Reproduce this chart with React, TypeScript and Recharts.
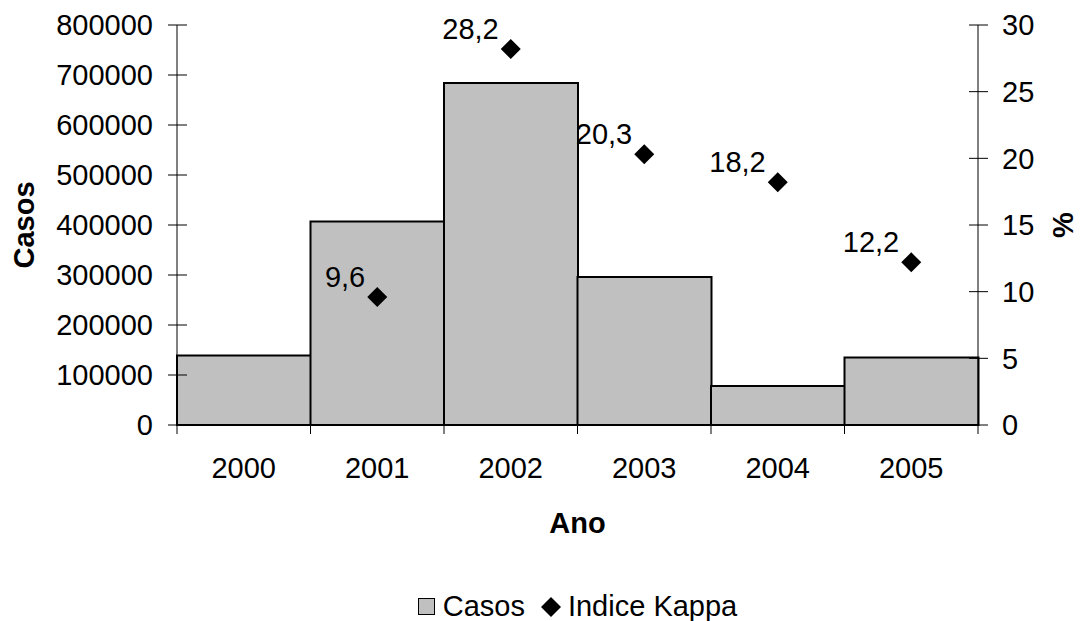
import { ComposedChart, Bar, Line, XAxis, YAxis, Legend } from "recharts";

// Casos por ano (barras, eixo esquerdo) e Indice Kappa em % (losangos, eixo direito)
const anos = ["2000", "2001", "2002", "2003", "2004", "2005"];
const casos = [139000, 407000, 684000, 296000, 78000, 135000];
const kappa = [null, 9.6, 28.2, 20.3, 18.2, 12.2];

const casosTicks = [0, 100000, 200000, 300000, 400000, 500000, 600000, 700000, 800000];
const kappaTicks = [0, 5, 10, 15, 20, 25, 30];

const data = anos.map((ano, i) => ({ ano, casos: casos[i], kappa: kappa[i] }));

const W = 1081;
const H = 621;
const LEFT = 177;
const RIGHT = 103;
const TOP = 25;
const BOTTOM = 196;
const PLOT_W = W - LEFT - RIGHT;
const PLOT_H = H - TOP - BOTTOM;
const AXIS_Y = TOP + PLOT_H;
const AXIS_RIGHT_X = LEFT + PLOT_W;
const HALF_BAND = PLOT_W / anos.length / 2;

const FONT = '"Liberation Sans", Arial, sans-serif';
const FS = 29;
const GRAY = "#C0C0C0";

const txt = { fontFamily: FONT, fontSize: FS, fill: "#000" };

const LeftTick = ({ y, payload }: any) => (
  <g>
    <line x1={LEFT - 9} x2={LEFT + 10} y1={y} y2={y} stroke="#000" />
    <text x={LEFT - 24} y={y} dy="0.36em" textAnchor="end" {...txt}>
      {payload.value}
    </text>
  </g>
);

const RightTick = ({ y, payload }: any) => (
  <g>
    <line x1={AXIS_RIGHT_X - 9} x2={AXIS_RIGHT_X + 10} y1={y} y2={y} stroke="#000" />
    <text x={AXIS_RIGHT_X + 24} y={y} dy="0.36em" textAnchor="start" {...txt}>
      {payload.value}
    </text>
  </g>
);

// ticks on the category boundaries, label in the middle
const YearTick = ({ x, payload, index }: any) => (
  <g>
    <line x1={x - HALF_BAND} x2={x - HALF_BAND} y1={AXIS_Y} y2={AXIS_Y + 9} stroke="#000" />
    {index === anos.length - 1 && (
      <line x1={x + HALF_BAND} x2={x + HALF_BAND} y1={AXIS_Y} y2={AXIS_Y + 9} stroke="#000" />
    )}
    <text x={x} y={AXIS_Y + 53} textAnchor="middle" {...txt}>
      {payload.value}
    </text>
  </g>
);

const Diamond = ({ cx, cy, value, index }: any) => {
  if (value == null || cy == null) return <g key={index} />;
  const r = 10;
  return (
    <g key={index}>
      <polygon
        points={`${cx},${cy - r} ${cx + r},${cy} ${cx},${cy + r} ${cx - r},${cy}`}
        fill="#000"
      />
      <text x={cx - 12} y={cy - 10} textAnchor="end" {...txt}>
        {value.toFixed(1).replace(".", ",")}
      </text>
    </g>
  );
};

const renderLegend = ({ payload }: any) => (
  <div
    style={{
      display: "flex",
      justifyContent: "center",
      alignItems: "center",
      fontFamily: FONT,
      fontSize: FS,
      lineHeight: `${FS}px`,
      color: "#000",
    }}
  >
    {(payload || []).map((entry: any, i: number) => (
      <div key={i} style={{ display: "flex", alignItems: "center", marginLeft: i ? 15 : 0 }}>
        {entry.type === "square" ? (
          <span
            style={{
              display: "inline-block",
              width: 17,
              height: 17,
              boxSizing: "border-box",
              border: "1px solid #000",
              background: GRAY,
              marginRight: 8,
            }}
          />
        ) : (
          <svg width={22} height={22} style={{ marginRight: 6 }}>
            <polygon points="11,1 21,11 11,21 1,11" fill="#000" />
          </svg>
        )}
        <span>{entry.value}</span>
      </div>
    ))}
  </div>
);

export default function App() {
  return (
    <div style={{ position: "absolute", left: 0, top: 0, background: "#fff" }}>
      <ComposedChart
        width={W}
        height={H}
        data={data}
        barCategoryGap={0}
        margin={{ top: TOP, right: 0, bottom: 0, left: 0 }}
      >
        <XAxis
          dataKey="ano"
          height={BOTTOM}
          tickLine={false}
          axisLine={{ stroke: "#000", strokeWidth: 2 }}
          tick={<YearTick />}
          interval={0}
          label={() => (
            <text x={LEFT + PLOT_W / 2} y={AXIS_Y + 108} textAnchor="middle" {...txt} fontWeight="bold">
              Ano
            </text>
          )}
        />
        <YAxis
          yAxisId="left"
          width={LEFT}
          domain={[0, 800000]}
          ticks={casosTicks}
          interval={0}
          tickLine={false}
          axisLine={{ stroke: "#000" }}
          tick={<LeftTick />}
          label={() => (
            <text
              x={34}
              y={TOP + PLOT_H / 2}
              transform={`rotate(-90, 34, ${TOP + PLOT_H / 2})`}
              textAnchor="middle"
              {...txt}
              fontWeight="bold"
            >
              Casos
            </text>
          )}
        />
        <YAxis
          yAxisId="right"
          orientation="right"
          width={RIGHT}
          domain={[0, 30]}
          ticks={kappaTicks}
          interval={0}
          tickLine={false}
          axisLine={{ stroke: "#000" }}
          tick={<RightTick />}
          label={() => (
            <text
              x={1073}
              y={TOP + PLOT_H / 2}
              transform={`rotate(-90, 1073, ${TOP + PLOT_H / 2})`}
              textAnchor="middle"
              {...txt}
              fontWeight="bold"
            >
              %
            </text>
          )}
        />
        <Bar
          yAxisId="left"
          dataKey="casos"
          name="Casos"
          fill={GRAY}
          stroke="#000"
          strokeWidth={2}
          legendType="square"
          isAnimationActive={false}
        />
        <Line
          yAxisId="right"
          dataKey="kappa"
          name="Indice Kappa"
          stroke="none"
          legendType="diamond"
          dot={Diamond}
          activeDot={false}
          isAnimationActive={false}
        />
        <Legend
          layout="horizontal"
          verticalAlign="middle"
          align="center"
          wrapperStyle={{ left: LEFT, top: 592, width: PLOT_W }}
          content={renderLegend}
        />
      </ComposedChart>
    </div>
  );
}
